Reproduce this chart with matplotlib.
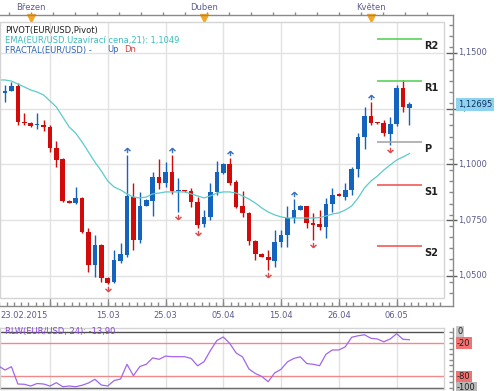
import numpy as np
import matplotlib.pyplot as plt
from matplotlib.path import Path
from matplotlib.lines import Line2D
from matplotlib.patches import Rectangle
from matplotlib.transforms import blended_transform_factory

# daily candles, index -1 = 23.02.2015 (one candle per day, Saturdays skipped)
opens = [1.1388, 1.1322, 1.1331, 1.1353, 1.1192, 1.1186, 1.1175, 1.1177, 1.1170, 1.1073,
         1.1023, 1.0838, 1.0826, 1.0851, 1.0699, 1.0549, 1.0639, 1.0490, 1.0474, 1.0569,
         1.0594, 1.0854, 1.0661, 1.0814, 1.0836, 1.0944, 1.0917, 1.0966, 1.0879, 1.0883,
         1.0881, 1.0832, 1.0733, 1.0765, 1.0877, 1.0962, 1.1002, 1.0922, 1.0814, 1.0783,
         1.0657, 1.0599, 1.0585, 1.0567, 1.0652, 1.0684, 1.0760, 1.0796, 1.0814, 1.0738,
         1.0733, 1.0720, 1.0823, 1.0868, 1.0854, 1.0886, 1.0980, 1.1123, 1.1217, 1.1188,
         1.1186, 1.1137, 1.1182, 1.1343, 1.1253]
highs = [1.1401, 1.1357, 1.1371, 1.1365, 1.1232, 1.1191, 1.1232, 1.1200, 1.1177, 1.1107,
         1.1029, 1.0840, 1.0900, 1.0856, 1.0714, 1.0684, 1.0644, 1.0496, 1.0617, 1.0648,
         1.1043, 1.0917, 1.0877, 1.0845, 1.0966, 1.1025, 1.1011, 1.1043, 1.0939, 1.0885,
         1.0895, 1.0854, 1.0796, 1.0917, 1.1016, 1.1007, 1.1029, 1.0930, 1.0881, 1.0785,
         1.0661, 1.0601, 1.0617, 1.0706, 1.0706, 1.0814, 1.0845, 1.0817, 1.0816, 1.0783,
         1.0796, 1.0850, 1.0895, 1.0870, 1.0917, 1.0989, 1.1141, 1.1258, 1.1280, 1.1189,
         1.1200, 1.1213, 1.1357, 1.1379, 1.1280]
lows = [1.1312, 1.1280, 1.1330, 1.1177, 1.1177, 1.1168, 1.1158, 1.1152, 1.1057, 1.0987,
        1.0833, 1.0828, 1.0825, 1.0691, 1.0519, 1.0497, 1.0472, 1.0464, 1.0469, 1.0558,
        1.0585, 1.0617, 1.0648, 1.0812, 1.0769, 1.0890, 1.0899, 1.0868, 1.0787, 1.0877,
        1.0809, 1.0715, 1.0720, 1.0751, 1.0863, 1.0957, 1.0908, 1.0805, 1.0765, 1.0639,
        1.0572, 1.0583, 1.0527, 1.0540, 1.0630, 1.0630, 1.0738, 1.0794, 1.0715, 1.0661,
        1.0706, 1.0670, 1.0787, 1.0857, 1.0841, 1.0863, 1.0944, 1.1070, 1.1177, 1.1183,
        1.1128, 1.1087, 1.1173, 1.1235, 1.1177]
closes = [1.1325, 1.1331, 1.1353, 1.1189, 1.1185, 1.1174, 1.1178, 1.1167, 1.1073, 1.1020,
          1.0838, 1.0829, 1.0851, 1.0696, 1.0549, 1.0639, 1.0490, 1.0470, 1.0572, 1.0599,
          1.0859, 1.0661, 1.0814, 1.0841, 1.0944, 1.0917, 1.0966, 1.0881, 1.0883, 1.0879,
          1.0832, 1.0729, 1.0765, 1.0877, 1.0966, 1.1002, 1.0917, 1.0809, 1.0783, 1.0657,
          1.0599, 1.0585, 1.0572, 1.0652, 1.0684, 1.0760, 1.0796, 1.0814, 1.0738, 1.0729,
          1.0720, 1.0823, 1.0863, 1.0859, 1.0886, 1.0980, 1.1123, 1.1217, 1.1186, 1.1184,
          1.1141, 1.1182, 1.1343, 1.1258, 1.12695]

ema21 = [1.1379, 1.1379, 1.1374, 1.1361, 1.1348, 1.1334, 1.1325, 1.1312, 1.1285, 1.1258,
         1.1213, 1.1168, 1.1141, 1.1101, 1.1056, 1.1011, 1.0971, 1.0926, 1.0899, 1.0886,
         1.0868, 1.0854, 1.0850, 1.0854, 1.0868, 1.0872, 1.0877, 1.0877, 1.0877, 1.0877,
         1.0868, 1.0859, 1.0850, 1.0859, 1.0872, 1.0877, 1.0877, 1.0872, 1.0859, 1.0845,
         1.0827, 1.0805, 1.0787, 1.0774, 1.0765, 1.0760, 1.0760, 1.0760, 1.0760, 1.0760,
         1.0762, 1.0769, 1.0778, 1.0783, 1.0796, 1.0814, 1.0850, 1.0895, 1.0926, 1.0948,
         1.0975, 1.0998, 1.1020, 1.1034, 1.1049]

rlw = [-61.3, -68.5, -62.5, -93.7, -94.2, -97.3, -92.8, -93.7, -97.3, -91.4,
       -98.6, -97.3, -98.6, -96.0, -91.9, -85.2, -95.5, -97.3, -87.4, -84.7,
       -58.2, -78.7, -62.2, -58.2, -46.7, -49.2, -43.4, -44.5, -44.5, -44.5,
       -47.7, -60.9, -53.5, -33.3, -15.3, -9.0, -20.4, -37.8, -44.9, -66.7,
       -74.8, -80.2, -89.5, -73.7, -67.2, -53.7, -47.6, -44.7, -56.8, -58.2,
       -60.7, -40.0, -32.4, -32.4, -26.7, -9.5, -6.8, -5.0, -11.4, -12.6,
       -17.7, -12.6, -3.1, -13.2, -13.9]

fractal_up = [19, 26, 35, 45, 57]
fractal_dn = [16, 27, 30, 41, 48, 60]

pivot_names = ['R2', 'R1', 'P', 'S1', 'S2']
pivot_levels = [1.1563, 1.1375, 1.1099, 1.0909, 1.0633]
pivot_start, pivot_end = 58, 65

grid_pos = [7, 16, 25, 34, 43, 52, 61]
date_pos = [16, 25, 34, 43, 52, 61]
date_labels = ['15.03', '25.03', '05.04', '15.04', '26.04', '06.05']
month_pos = [4, 31, 57]
month_labels = ['Březen', 'Duben', 'Květen']
price_ticks = [1.05, 1.075, 1.10, 1.125, 1.15]
price_labels = ['1,0500', '1,0750', '1,1000', '1,1250', '1,1500']
rlw_ticks = [0, -20, -80, -100]
rlw_labels = ['0', '-20', '-80', '-100']

UP = '#1464be'
DN = '#d20a0a'
GRID = '#e2e2e2'
RULER = '#8a8a8a'
AXTXT = '#5c5c8c'

W, H = 500, 391
fig = plt.figure(figsize=(W / 100, H / 100), dpi=100)


def rect(l, t, r, b):
    return [l / W, 1 - b / H, (r - l) / W, (b - t) / H]


def fy(py):
    return 1 - py / H


def fx(px):
    return px / W


ax = fig.add_axes(rect(0, 22, 444, 298))
ax2 = fig.add_axes(rect(0, 328, 444, 389))

xs = np.arange(-1, len(opens) - 1)
o = np.array(opens)
c = np.array(closes)
cols = [UP if cc >= oo else DN for oo, cc in zip(o, c)]

# grid
for g in grid_pos:
    ax.axvline(g, color=GRID, lw=1, zorder=0)
    ax2.axvline(g, color=GRID, lw=1, zorder=0)
for p in price_ticks:
    ax.axhline(p, color=GRID, lw=1, zorder=0)

# candles
ax.vlines(xs, lows, highs, colors=cols, lw=1, zorder=2)
ax.bar(xs, np.maximum(np.abs(c - o), 0.0005), bottom=np.minimum(o, c), width=0.72,
       color=cols, linewidth=0, zorder=3)

# EMA
ax.plot(xs, ema21, color='#5ccaca', lw=0.9, zorder=4)

# fractals
up_m = Path([(-1, -0.2), (0, 0.7), (1, -0.2), (0, 0.7), (0, -0.9)],
            [Path.MOVETO, Path.LINETO, Path.LINETO, Path.MOVETO, Path.LINETO])
dn_m = Path([(-1, 0.2), (0, -0.7), (1, 0.2), (0, -0.7), (0, 0.9)],
            [Path.MOVETO, Path.LINETO, Path.LINETO, Path.MOVETO, Path.LINETO])
hi = np.array(highs)
lo = np.array(lows)
ax.plot(fractal_up, hi[np.array(fractal_up) + 1] + 0.0022, ls='none', marker=up_m,
        ms=4.3, mew=1.0, color='#3a70c0', fillstyle='none', zorder=5)
ax.plot(fractal_dn, lo[np.array(fractal_dn) + 1] - 0.0022, ls='none', marker=dn_m,
        ms=4.3, mew=1.0, color='#e04848', fillstyle='none', zorder=5)

# pivots
piv_cols = ['#5ad35a', '#5ad35a', '#a8a8a8', '#f05a5a', '#f05a5a']
for name, lev, pc in zip(pivot_names, pivot_levels, piv_cols):
    ax.hlines(lev, pivot_start, pivot_end, color=pc, lw=1.2, zorder=4)
    ax.annotate(name, (pivot_end, lev), xytext=(1.5, -5), textcoords='offset points',
                ha='left', va='center', fontsize=7, fontweight='bold', color='#202020')

ax.set_xlim(-0.78, 68.38)
ax.set_ylim(1.04013, 1.16390)
ax.set_xticks([])
ax.set_yticks([])
for s in ax.spines.values():
    s.set_visible(False)
ax.add_patch(Rectangle((0, 0), 1, 1, transform=ax.transAxes, fill=False,
                       ec='#d4d4d4', lw=1, clip_on=False, zorder=6))

# legend texts
lt = blended_transform_factory(ax.transAxes, fig.transFigure)
ax.text(5 / 444, fy(30), 'PIVOT(EUR/USD,Pivot)', transform=lt,
        fontsize=6, color='#202020', va='center')
ax.text(5 / 444, fy(40.5), 'EMA(EUR/USD.Uzavírací cena,21): 1,1049', transform=lt,
        fontsize=6, color='#3cbcbc', va='center')
ax.text(5 / 444, fy(50), 'FRACTAL(EUR/USD) -', transform=lt,
        fontsize=6, color='#3064b4', va='center')
ax.text(107 / 444, fy(50), 'Up', transform=lt, fontsize=6, color='#3064b4', va='center')
ax.text(124 / 444, fy(50), 'Dn', transform=lt, fontsize=6, color='#e03c3c', va='center')

# rulers (top / bottom / right)
tx = blended_transform_factory(ax.transData, fig.transFigure)
ty = blended_transform_factory(fig.transFigure, ax.transData)
fig.add_artist(Line2D([0, fx(453)], [fy(15), fy(15)], color=RULER, lw=1))
fig.add_artist(Line2D([0, fx(453)], [fy(306), fy(306)], color=RULER, lw=1))
fig.add_artist(Line2D([fx(453), fx(453)], [fy(15), fy(306)], color=RULER, lw=1))

top_ticks = np.arange(0.6, 68.4, 3.43)
ax.vlines(top_ticks, fy(12), fy(15), transform=tx, colors=RULER, lw=1, clip_on=False)
ax.plot(month_pos, [fy(18)] * len(month_pos), ls='none', marker='v', ms=5.5,
        color='#f5a623', transform=tx, clip_on=False)
for mp, ml in zip(month_pos, month_labels):
    ax.text(mp, fy(7), ml, transform=tx, ha='center', va='center', fontsize=6, color=AXTXT)

bot_minor = np.arange(-2, 68.4, 9 / 8)
ax.vlines(bot_minor, fy(306), fy(302), transform=tx, colors=RULER, lw=1, clip_on=False)
ax.vlines(grid_pos, fy(306), fy(298), transform=tx, colors=RULER, lw=1, clip_on=False)
ax.text(0.5 / 444, fy(316), '23.02.2015', transform=lt,
        ha='left', va='center', fontsize=6, color=AXTXT)
for dp, dl in zip(date_pos, date_labels):
    ax.text(dp, fy(316), dl, transform=tx, ha='center', va='center', fontsize=6, color=AXTXT)

price_minor = np.arange(1.0425, 1.1626, 0.005)
ax.hlines(price_minor, fx(449), fx(453), transform=ty, colors=RULER, lw=1, clip_on=False)
ax.hlines(price_ticks, fx(446), fx(457), transform=ty, colors='#606060', lw=1, clip_on=False)
for pt, pl in zip(price_ticks, price_labels):
    ax.text(fx(458), pt, pl, transform=ty, ha='left', va='center', fontsize=6, color=AXTXT)
ax.text(fx(458), closes[-1], '1,12695', transform=ty, ha='left', va='center', fontsize=6,
        color='#10305a', bbox=dict(boxstyle='square,pad=0.25', fc='#8ed2f2', ec='none'), zorder=10)

# RLW panel
ax2.plot(xs, rlw, color='#a066ee', lw=0.9, zorder=3)
ax2.axhline(0, color='#505050', lw=1)
ax2.axhline(-100, color='#505050', lw=1)
ax2.axhline(-20, color='#f08a8a', lw=1)
ax2.axhline(-80, color='#f08a8a', lw=1)
ax2.set_xlim(-0.78, 68.38)
ax2.set_ylim(-102.7, 7.2)
ax2.set_xticks([])
ax2.set_yticks([])
for s in ax2.spines.values():
    s.set_color('#d4d4d4')
    s.set_linewidth(1)
ax2.text(5 / 444, 0, 'RLW(EUR/USD, 24): -13,90',
         transform=blended_transform_factory(ax2.transAxes, ax2.transData),
         fontsize=6, color='#8a44d8', va='center')

ty2 = blended_transform_factory(fig.transFigure, ax2.transData)
fig.add_artist(Line2D([fx(453), fx(453)], [fy(328), fy(391)], color=RULER, lw=1))
ax2.hlines(np.arange(-100, 1, 10), fx(449), fx(453), transform=ty2, colors=RULER, lw=1, clip_on=False)
lab_bg = ['#c8c8c8', '#f27272', '#f27272', '#b8b8b8']
for rt, rl, bg in zip(rlw_ticks, rlw_labels, lab_bg):
    ax2.text(fx(457), rt, rl, transform=ty2, ha='left', va='center', fontsize=6, color='#202020',
             bbox=dict(boxstyle='square,pad=0.15', fc=bg, ec='none'))

fig.savefig('out.png', dpi=100)
